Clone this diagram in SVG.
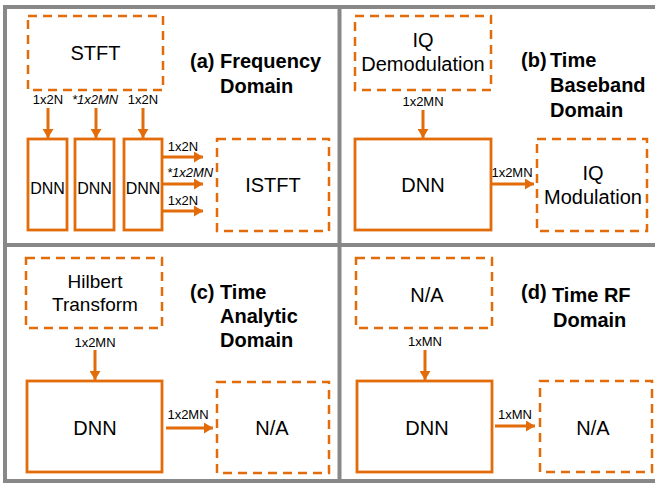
<svg xmlns="http://www.w3.org/2000/svg" width="655" height="483" viewBox="0 0 655 483">
<defs>
<marker id="ah" markerUnits="userSpaceOnUse" markerWidth="10" markerHeight="11" refX="9" refY="5.5" orient="auto">
<path d="M0,0 L9,5.5 L0,11 z" fill="#E36C0A"/>
</marker>
<style>
.frame{stroke:#888;stroke-width:4;fill:none}
.dash{fill:none;stroke:#E36C0A;stroke-width:2.5;stroke-dasharray:9 6}
.solid{fill:none;stroke:#E36C0A;stroke-width:2.8}
.arr{stroke:#E36C0A;stroke-width:3;fill:none;marker-end:url(#ah)}
text{font-family:"Liberation Sans",Arial,sans-serif;fill:#000}
.big{font-size:20px;text-anchor:middle}
.mid{font-size:19px;text-anchor:middle}
.dnnS{font-size:16px;text-anchor:middle}
.lab{font-size:13px;text-anchor:middle}
.it{font-style:italic}
.title{font-size:20px;font-weight:bold}
</style>
</defs>
<rect width="655" height="483" fill="#fff"/>
<g id="frames">
<line class="frame" x1="5" y1="5" x2="5" y2="483"/>
<line class="frame" x1="3" y1="7" x2="655" y2="7"/>
<line class="frame" x1="339.5" y1="7" x2="339.5" y2="483"/>
<line class="frame" x1="3" y1="245" x2="655" y2="245"/>
<line class="frame" x1="3" y1="481" x2="655" y2="481"/>
</g>

<!-- Panel (a) -->
<g id="a-stft"><rect class="dash" x="28" y="16" width="135" height="74"/><text class="big" x="95.5" y="60">STFT</text></g>
<g id="a-dnn1"><rect class="solid" x="28" y="139" width="39" height="91"/><text class="dnnS" x="47.5" y="194">DNN</text></g>
<g id="a-dnn2"><rect class="solid" x="75" y="139" width="39" height="91"/><text class="dnnS" x="94.5" y="194">DNN</text></g>
<g id="a-dnn3"><rect class="solid" x="124" y="139" width="38" height="91"/><text class="dnnS" x="143" y="194">DNN</text></g>
<g id="a-istft"><rect class="dash" x="217" y="139" width="112" height="92"/><text class="big" x="273" y="192">ISTFT</text></g>
<g id="a-title"><text class="title" x="190" y="68">(a) Frequency</text><text class="title" x="220" y="93">Domain</text></g>

<!-- Panel (b) -->
<g id="b-demod"><rect class="dash" x="355" y="16" width="136" height="74"/><text class="big" x="423" y="47">IQ</text><text class="big" x="423" y="71">Demodulation</text></g>
<g id="b-dnn"><rect class="solid" x="355" y="139" width="136" height="91"/><text class="big" x="423" y="192">DNN</text></g>
<g id="b-mod"><rect class="dash" x="537" y="139" width="110" height="92"/><text class="big" x="593" y="180">IQ</text><text class="big" x="593" y="204">Modulation</text></g>
<g id="b-title"><text class="title" x="521" y="67">(b)</text><text class="title" x="550" y="67">Time</text><text class="title" x="550" y="92">Baseband</text><text class="title" x="550" y="117">Domain</text></g>

<!-- Panel (c) -->
<g id="c-hilbert"><rect class="dash" x="26" y="258" width="136" height="70"/><text class="mid" x="95" y="288">Hilbert</text><text class="mid" x="95" y="311">Transform</text></g>
<g id="c-dnn"><rect class="solid" x="27" y="381" width="135" height="91"/><text class="big" x="95" y="435">DNN</text></g>
<g id="c-na"><rect class="dash" x="217" y="382" width="112" height="91"/><text class="big" x="272" y="435">N/A</text></g>
<g id="c-title"><text class="title" x="190" y="299">(c)</text><text class="title" x="220" y="299">Time</text><text class="title" x="220" y="323">Analytic</text><text class="title" x="220" y="347">Domain</text></g>

<!-- Panel (d) -->
<g id="d-na1"><rect class="dash" x="356" y="258" width="136" height="70"/><text class="big" x="427" y="302">N/A</text></g>
<g id="d-dnn"><rect class="solid" x="357" y="381" width="135" height="91"/><text class="big" x="427" y="435">DNN</text></g>
<g id="d-na2"><rect class="dash" x="540" y="381" width="112" height="91"/><text class="big" x="593" y="435">N/A</text></g>
<g id="d-title"><text class="title" x="521" y="299">(d)</text><text class="title" x="552" y="302">Time RF</text><text class="title" x="553" y="327">Domain</text></g>

<g id="connectors">
<line class="arr" x1="48" y1="108" x2="48" y2="138"/>
<line class="arr" x1="96" y1="108" x2="96" y2="138"/>
<line class="arr" x1="143" y1="108" x2="143" y2="138"/>
<line class="arr" x1="162" y1="157" x2="203" y2="157"/>
<line class="arr" x1="162" y1="184" x2="203" y2="184"/>
<line class="arr" x1="162" y1="211" x2="203" y2="211"/>
<line class="arr" x1="423" y1="110" x2="423" y2="138"/>
<line class="arr" x1="491" y1="184" x2="534" y2="184"/>
<line class="arr" x1="95" y1="350" x2="95" y2="380"/>
<line class="arr" x1="166" y1="428" x2="213" y2="428"/>
<line class="arr" x1="425" y1="350" x2="425" y2="380"/>
<line class="arr" x1="495" y1="426" x2="535" y2="426"/>
</g>
<g id="labels">
<text class="lab" x="48" y="104">1x2N</text>
<text class="lab it" x="95" y="104">*1x2MN</text>
<text class="lab" x="143" y="104">1x2N</text>
<text class="lab" x="183" y="151">1x2N</text>
<text class="lab it" x="190" y="177">*1x2MN</text>
<text class="lab" x="183" y="205">1x2N</text>
<text class="lab" x="423" y="106">1x2MN</text>
<text class="lab" x="512" y="177">1x2MN</text>
<text class="lab" x="95" y="347">1x2MN</text>
<text class="lab" x="188" y="419">1x2MN</text>
<text class="lab" x="425" y="346">1xMN</text>
<text class="lab" x="515" y="419">1xMN</text>
</g>
</svg>
